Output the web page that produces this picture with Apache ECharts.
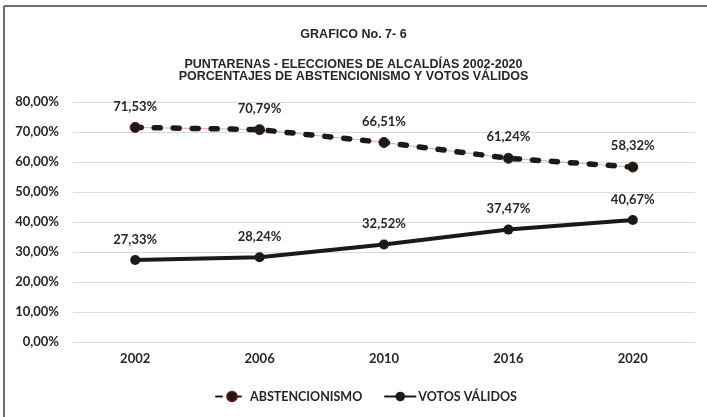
<!DOCTYPE html>
<html>
<head>
<meta charset="utf-8">
<script src="https://cdn.jsdelivr.net/npm/echarts@6/dist/echarts.min.js"></script>
<style>
  html, body { margin: 0; padding: 0; background: #fff; }
  #chart { width: 707px; height: 417px; }
</style>
</head>
<body>
<div id="chart"></div>
<script>
// Election years
const years = ['2002', '2006', '2010', '2016', '2020'];
// Percentages per year
const abstencionismo = [71.53, 70.79, 66.51, 61.24, 58.32];
const votosValidos = [27.33, 28.24, 32.52, 37.47, 40.67];
// Y axis range and step
const yMin = 0, yMax = 80, yStep = 10;

const fmt = v => v.toFixed(2).replace('.', ',') + '%';
const labelFont = { fontFamily: 'Lato', fontWeight: 'bold', fontSize: 13, color: '#262626' };
const titleStyle = { fontFamily: "'Liberation Sans', Arial, sans-serif", fontWeight: 'bold', fontSize: 12.5, color: '#262626' };

const chart = echarts.init(document.getElementById('chart'), null, { renderer: 'canvas' });
chart.setOption({
  backgroundColor: '#fff',
  animation: false,
  title: [
    { text: 'GRAFICO No. 7- 6', left: 'center', top: 23, textStyle: titleStyle },
    { text: 'PUNTARENAS - ELECCIONES DE ALCALDÍAS 2002-2020', left: 'center', top: 53, textStyle: titleStyle },
    { text: 'PORCENTAJES DE ABSTENCIONISMO Y VOTOS VÁLIDOS', left: 'center', top: 65, textStyle: titleStyle }
  ],
  graphic: [
    { type: 'line', shape: { x1: 4, y1: 6, x2: 707, y2: 6 }, style: { stroke: '#6e6e6e', lineWidth: 2 } },
    { type: 'line', shape: { x1: 4, y1: 6, x2: 4, y2: 417 }, style: { stroke: '#6e6e6e', lineWidth: 2 } }
  ],
  legend: {
    left: 210, top: 385,
    itemWidth: 32, itemHeight: 12, itemGap: 21,
    data: ['ABSTENCIONISMO', 'VOTOS VÁLIDOS'],
    textStyle: { fontFamily: 'Lato', fontWeight: 'bold', fontSize: 12.5, color: '#262626', padding: [0, 0, 0, -3] }
  },
  grid: { left: 73, right: 12, top: 102, bottom: 75 },
  xAxis: {
    type: 'category',
    data: years,
    boundaryGap: true,
    axisLine: { lineStyle: { color: '#d9d9d9', width: 1 } },
    axisTick: { show: false },
    axisLabel: { ...labelFont, margin: 10 }
  },
  yAxis: {
    type: 'value',
    min: yMin, max: yMax, interval: yStep,
    axisLine: { show: false },
    axisTick: { show: false },
    splitLine: { lineStyle: { color: '#d9d9d9', width: 1 } },
    axisLabel: { ...labelFont, margin: 14, formatter: v => fmt(v) }
  },
  series: [
    {
      // faint red trace beneath the dashed line
      name: 'abst-trace',
      type: 'line',
      data: abstencionismo,
      symbol: 'none',
      silent: true,
      z: 1,
      lineStyle: { color: '#f08a8a', width: 0.8 }
    },
    {
      name: 'ABSTENCIONISMO',
      type: 'line',
      data: abstencionismo,
      z: 3,
      symbol: 'circle',
      symbolSize: 10,
      itemStyle: { color: '#1a1a1a', borderColor: '#5a1414', borderWidth: 1 },
      lineStyle: { color: '#1a1a1a', width: 5.5, type: [6, 13], cap: 'round' },
      label: { show: true, position: 'top', distance: 9, ...labelFont, formatter: p => fmt(p.value) }
    },
    {
      name: 'VOTOS VÁLIDOS',
      type: 'line',
      data: votosValidos,
      z: 3,
      symbol: 'circle',
      symbolSize: 10,
      itemStyle: { color: '#1a1a1a' },
      lineStyle: { color: '#1a1a1a', width: 4 },
      label: { show: true, position: 'top', distance: 9, ...labelFont, formatter: p => fmt(p.value) }
    }
  ]
});
</script>
</body>
</html>
